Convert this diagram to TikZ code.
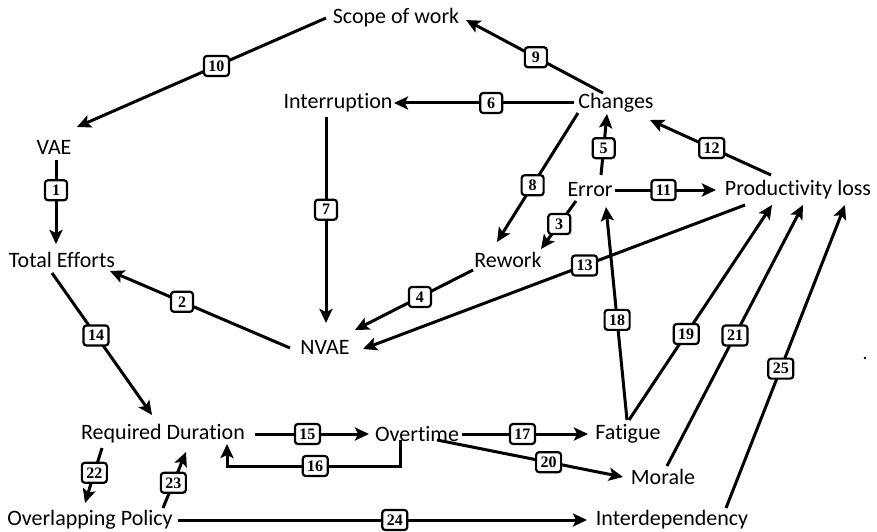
\documentclass[tikz,border=0pt]{standalone}
\usepackage{fontspec}
\setmainfont{Carlito}[Ligatures=CommonOff]
\newfontfamily\numfont{Liberation Serif}
\usetikzlibrary{arrows.meta,calc}
\begin{document}
\begin{tikzpicture}[x=1pt,y=-1pt,
  var/.style={inner sep=0pt,font=\fontsize{22}{26}\selectfont},
  link/.style={line width=3pt,-{Stealth[length=14pt,width=13pt,inset=3pt]}},
  lbl/.style={draw,fill=white,rounded corners=3pt,line width=2.2pt,inner xsep=4.5pt,inner ysep=2pt,
    font=\numfont\bfseries\fontsize{16}{17}\selectfont,minimum height=20pt,minimum width=22pt}]
\useasboundingbox (0,0) rectangle (877,532);

% variables
\node[var] (scope) at (396,18)  {Scope of work};
\node[var] (intr)  at (338,103) {Interruption};
\node[var] (chg)   at (616,103) {Changes};
\node[var] (vae)   at (54,147)  {VAE};
\node[var] (err)   at (590,190) {Error};
\node[var] (prod)  at (798,190) {Productivity loss};
\node[var] (total) at (62,260)  {Total Efforts};
\node[var] (rew)   at (508,260) {Rework};
\node[var] (nvae)  at (325,347) {NVAE};
\node[var] (req)   at (163,434) {Required Duration};
\node[var] (over)  at (417,434) {Overtime};
\node[var] (fat)   at (628,434) {Fatigue};
\node[var] (mor)   at (663,477) {Morale};
\node[var] (ovl)   at (90,520)  {Overlapping Policy};
\node[var] (intd)  at (672,520) {Interdependency};

% causal links
\draw[link] ($(scope.center)+(-70,0)$) -- node[lbl,pos=0.44]{10} ($(vae.center)+(23,-20)$);
\draw[link] ($(chg.center)+(-13,-10)$) -- node[lbl,pos=0.49]{9} ($(scope.center)+(70,2)$);
\draw[link] ($(chg.center)+(-42,0)$) -- node[lbl,pos=0.46]{6} ($(intr.center)+(56,0)$);
\draw[link] ($(intr.center)+(-12,14)$) -- node[lbl,pos=0.45]{7} ($(nvae.center)+(1,-24)$);
\draw[link] ($(vae.center)+(2,13)$) -- node[lbl,pos=0.36]{1} ($(total.center)+(-6,-16)$);
\draw[link] ($(nvae.center)+(-35,1)$) -- node[lbl,pos=0.6]{2} ($(total.center)+(48,11)$);
\draw[link] ($(chg.center)+(-38,10)$) -- node[lbl,pos=0.56]{8} ($(rew.center)+(-11,-18)$);
\draw[link] ($(err.center)+(11,-15)$) -- node[lbl,pos=0.44]{5} ($(chg.center)+(-9,11)$);
\draw[link] ($(prod.center)+(-27,-15)$) -- node[lbl,pos=0.49]{12} ($(chg.center)+(34,17)$);
\draw[link] ($(err.center)+(25,0)$) -- node[lbl,pos=0.48]{11} ($(prod.center)+(-82,0)$);
\draw[link] ($(err.center)+(-14,11)$) -- node[lbl,pos=0.48]{3} ($(rew.center)+(33,-11)$);
\draw[link] ($(prod.center)+(-53,15)$) -- node[lbl,pos=0.42]{13} ($(nvae.center)+(38,2)$);
\draw[link] ($(rew.center)+(-35,10)$) -- node[lbl,pos=0.45]{4} ($(nvae.center)+(30,-17)$);
\draw[link] ($(fat.center)+(-1,-14)$) -- node[lbl,pos=0.47]{18} ($(err.center)+(16,17)$);
\draw[link] ($(fat.center)+(1,-14)$) -- node[lbl,pos=0.40]{19} ($(prod.center)+(-26,15)$);
\draw[link] ($(mor.center)+(4,-11)$) -- node[lbl,pos=0.50]{21} ($(prod.center)+(5,15)$);
\draw[link] ($(intd.center)+(54,-12)$) -- node[lbl,pos=0.46]{25} ($(prod.center)+(47,15)$);
\draw[link] ($(total.center)+(-10,13)$) -- node[lbl,pos=0.44]{14} ($(req.center)+(-11,-19)$);
\draw[link] ($(req.center)+(92,0)$) -- node[lbl,pos=0.46]{15} ($(over.center)+(-48,0)$);
\coordinate (k16a) at ($(over.center)+(-17,32)$);
\coordinate (k16b) at ($(req.center)+(64,32)$);
\draw[link] ($(over.center)+(-17,6)$) -- (k16a) -- node[lbl,pos=0.49]{16} (k16b) -- ($(req.center)+(64,10)$);
\draw[link] ($(over.center)+(45,0)$) -- node[lbl,pos=0.48]{17} ($(fat.center)+(-40,0)$);
\draw[link] ($(over.center)+(20,6)$) -- node[lbl,pos=0.6]{20} ($(mor.center)+(-40,0)$);
\draw[link] ($(req.center)+(-61,14)$) -- node[lbl,pos=0.45]{22} ($(ovl.center)+(-5,-17)$);
\draw[link] ($(ovl.center)+(73,-12)$) -- node[lbl,pos=0.45]{23} ($(req.center)+(23,18)$);
\draw[link] ($(ovl.center)+(88,0)$) -- node[lbl,pos=0.53]{24} ($(intd.center)+(-85,0)$);

% stray mark
\fill (865,358) circle (1.3);
\end{tikzpicture}
\end{document}
